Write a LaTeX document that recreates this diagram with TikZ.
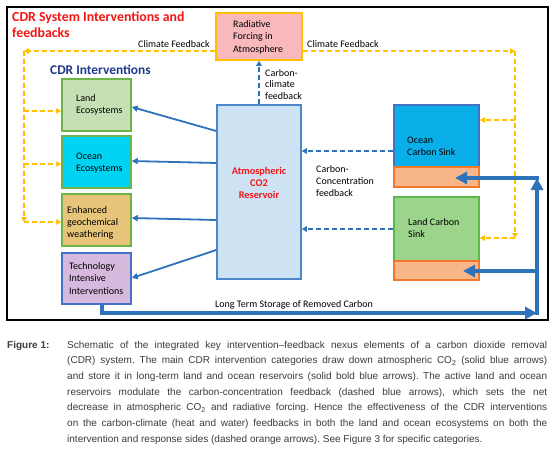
\documentclass[tikz,border=0pt]{standalone}
\usepackage{fontspec}
\setmainfont{Carlito}
\newfontfamily\capfont{Liberation Sans}
\usetikzlibrary{arrows.meta}
\frenchspacing
\definecolor{cfOrange}{HTML}{FFC000}
\definecolor{cfBlue}{HTML}{2E72BA}
\definecolor{cfRed}{HTML}{F41414}
\definecolor{cfNavy}{HTML}{20398A}
\definecolor{landEco}{HTML}{C5E0B4}
\definecolor{greenBd}{HTML}{6DB34A}
\definecolor{oceanEco}{HTML}{00D3F2}
\definecolor{geoFill}{HTML}{E6C47A}
\definecolor{techFill}{HTML}{D7B9DD}
\definecolor{techBd}{HTML}{4472C4}
\definecolor{resFill}{HTML}{CDE3F4}
\definecolor{resBd}{HTML}{4A86C8}
\definecolor{radFill}{HTML}{F8B8BC}
\definecolor{oceanSink}{HTML}{0AAEE8}
\definecolor{landSink}{HTML}{9DD48C}
\definecolor{landSinkBd}{HTML}{5CB849}
\definecolor{subFill}{HTML}{F9B688}
\definecolor{subBd}{HTML}{F07A2A}
\definecolor{capGray}{HTML}{3C3C3C}
\begin{document}
\begin{tikzpicture}[x=1pt,y=-1pt,
  box/.style={draw, line width=1.5pt, inner sep=0pt, rectangle},
  lbl/.style={inner sep=0pt, anchor=base west, align=left, font=\fontsize{10}{12}\selectfont},
  ofb/.style={draw=cfOrange, line width=1.8pt, dash pattern=on 5pt off 3pt},
  otip/.style={ofb, -{Triangle[length=5pt,width=5.5pt]}},
  bfb/.style={draw=cfBlue, line width=1.8pt, dash pattern=on 5pt off 3pt, -{Triangle[length=5pt,width=5.5pt]}},
  bthin/.style={draw=cfBlue, line width=1.8pt, -{Triangle[length=6pt,width=6pt]}},
  bbold/.style={draw=cfBlue, line width=3.8pt, -{Triangle[length=12pt,width=12pt]}},
  capt/.style={inner sep=0pt, anchor=base west, text=capGray, font=\capfont\fontsize{10}{12}\selectfont},
]
\useasboundingbox (0,0) rectangle (553,455);
\fill[white] (0,0) rectangle (553,455);
\draw[line width=2.5pt] (7,7) rectangle (548,320);

% boxes
\node[box, draw=cfOrange, fill=radFill, minimum width=86pt, minimum height=47pt] (rad) at (259,36.5) {};
\node[box, draw=greenBd, fill=landEco, minimum width=69pt, minimum height=52pt] (land) at (96.5,105) {};
\node[box, draw=greenBd, fill=oceanEco, minimum width=69pt, minimum height=52pt] (ocean) at (96.5,162) {};
\node[box, draw=greenBd, fill=geoFill, minimum width=69pt, minimum height=52pt] (geo) at (96.5,220) {};
\node[box, draw=techBd, fill=techFill, minimum width=69pt, minimum height=51pt] (tech) at (96.5,278.5) {};
\node[box, draw=resBd, fill=resFill, minimum width=84pt, minimum height=174pt] (res) at (259,192) {};
\node[box, draw=techBd, fill=oceanSink, minimum width=85pt, minimum height=62pt] (osink) at (436.5,136) {};
\node[box, draw=subBd, fill=subFill, line width=2.5pt, minimum width=85pt, minimum height=20pt] (osub) at (436.5,177) {};
\node[box, draw=landSinkBd, fill=landSink, minimum width=85pt, minimum height=64pt] (lsink) at (436.5,229) {};
\node[box, draw=subBd, fill=subFill, line width=2.5pt, minimum width=85pt, minimum height=19pt] (lsub) at (436.5,270.5) {};

% texts (multi-line nodes: base = last line's baseline)
\node[lbl, text=cfRed, font=\bfseries\fontsize{13.8}{16}\selectfont] (title) at (12,37) {CDR System Interventions and\\feedbacks};
\node[lbl, text=cfNavy, font=\bfseries\fontsize{13.4}{15}\selectfont] (cdrint) at (50,74) {CDR Interventions};
\node[lbl] (cfl) at (138,47) {Climate Feedback};
\node[lbl] (cfr) at (307,47) {Climate Feedback};
\node[lbl, font=\fontsize{10}{12.5}\selectfont] (radt) at (233,52) {Radiative\\Forcing in\\Atmosphere};
\node[lbl, font=\fontsize{10}{11.5}\selectfont] (cct) at (265,99) {Carbon-\\climate\\feedback};
\node[lbl] (conct) at (316,196) {Carbon-\\Concentration\\feedback};
\node[lbl, anchor=base, align=center, text=cfRed, font=\bfseries\fontsize{10.3}{12}\selectfont] (rest) at (259,198) {Atmospheric\\CO2\\Reservoir};
\node[lbl] (osinkt) at (407,155) {Ocean\\Carbon Sink};
\node[lbl] (lsinkt) at (408,237) {Land Carbon\\Sink};
\node[lbl] (landt) at (76,113) {Land\\Ecosystems};
\node[lbl, font=\fontsize{10}{12.5}\selectfont] (oceant) at (76,171.5) {Ocean\\Ecosystems};
\node[lbl] (geot) at (67,237) {Enhanced\\geochemical\\weathering};
\node[lbl, font=\fontsize{10}{12.5}\selectfont] (techt) at (69,294) {Technology\\Intensive\\Interventions};
\node[lbl] (ltst) at (215,307) {Long Term Storage of Removed Carbon};

% orange climate feedback
\coordinate (lc) at (24,51);
\coordinate (lb) at (24,222);
\coordinate (rc) at (515,51);
\coordinate (rb) at (515,238);
\draw[otip] (rad.west |- lc) -- (lc);
\draw[otip] (lc) -- (lb);
\draw[otip] (lb) -- (geo.west |- lb);
\draw[otip] (lc |- 0,111) -- (land.west |- 0,111);
\draw[otip] (lc |- 0,164) -- (ocean.west |- 0,164);
\draw[otip] (rad.east |- rc) -- (rc);
\draw[otip] (rc) -- (rb);
\draw[otip] (rb) -- (lsink.east |- rb);
\draw[otip] (rc |- 0,120) -- (osink.east |- 0,120);

% blue dashed feedbacks
\draw[bfb] (res.north) -- (rad.south);
\draw[bfb] (osink.west |- 0,151) -- (res.east |- 0,151);
\draw[bfb] (lsink.west |- 0,229) -- (res.east |- 0,229);

% solid thin draw-down arrows
\draw[bthin] (res.west |- 0,131) -- (land.east |- 0,107);
\draw[bthin] (res.west |- 0,163) -- (ocean.east |- 0,161);
\draw[bthin] (res.west |- 0,220) -- (geo.east |- 0,218);
\draw[bthin] (res.west |- 0,250) -- (tech.east |- 0,278);

% bold long-term storage
\coordinate (bl) at (102,313);
\coordinate (br) at (537,313);
\coordinate (tr) at (537,178);
\coordinate (mr) at (537,271);
\coordinate (otipc) at (455,178);
\coordinate (ltipc) at (463,271);
\draw[bbold] (bl |- tech.south) -- (bl) -- (br);
\draw[bbold] (537,315) -- (tr);
\draw[bbold] (539,178) -- (otipc);
\draw[bbold] (mr) -- (ltipc);

% caption
\node[capt, font=\capfont\bfseries\fontsize{10}{12}\selectfont] (fig) at (7,348) {Figure 1:};
\node[capt] (c1) at (67,348) {\makebox[480pt][s]{Schematic of the integrated key intervention–feedback nexus elements of a carbon dioxide removal}};
\node[capt] (c2) at (67,363.7) {\makebox[480pt][s]{(CDR) system. The main CDR intervention categories draw down atmospheric CO\textsubscript{2} (solid blue arrows)}};
\node[capt] (c3) at (67,379.3) {\makebox[480pt][s]{and store it in long-term land and ocean reservoirs (solid bold blue arrows). The active land and ocean}};
\node[capt] (c4) at (67,395) {\makebox[480pt][s]{reservoirs modulate the carbon-concentration feedback (dashed blue arrows), which sets the net}};
\node[capt] (c5) at (67,410.7) {\makebox[480pt][s]{decrease in atmospheric CO\textsubscript{2} and radiative forcing. Hence the effectiveness of the CDR interventions}};
\node[capt] (c6) at (67,426.3) {\makebox[480pt][s]{on the carbon-climate (heat and water) feedbacks in both the land and ocean ecosystems on both the}};
\node[capt] (c7) at (67,442) {intervention and response sides (dashed orange arrows). See Figure 3 for specific categories.};
\end{tikzpicture}
\end{document}
